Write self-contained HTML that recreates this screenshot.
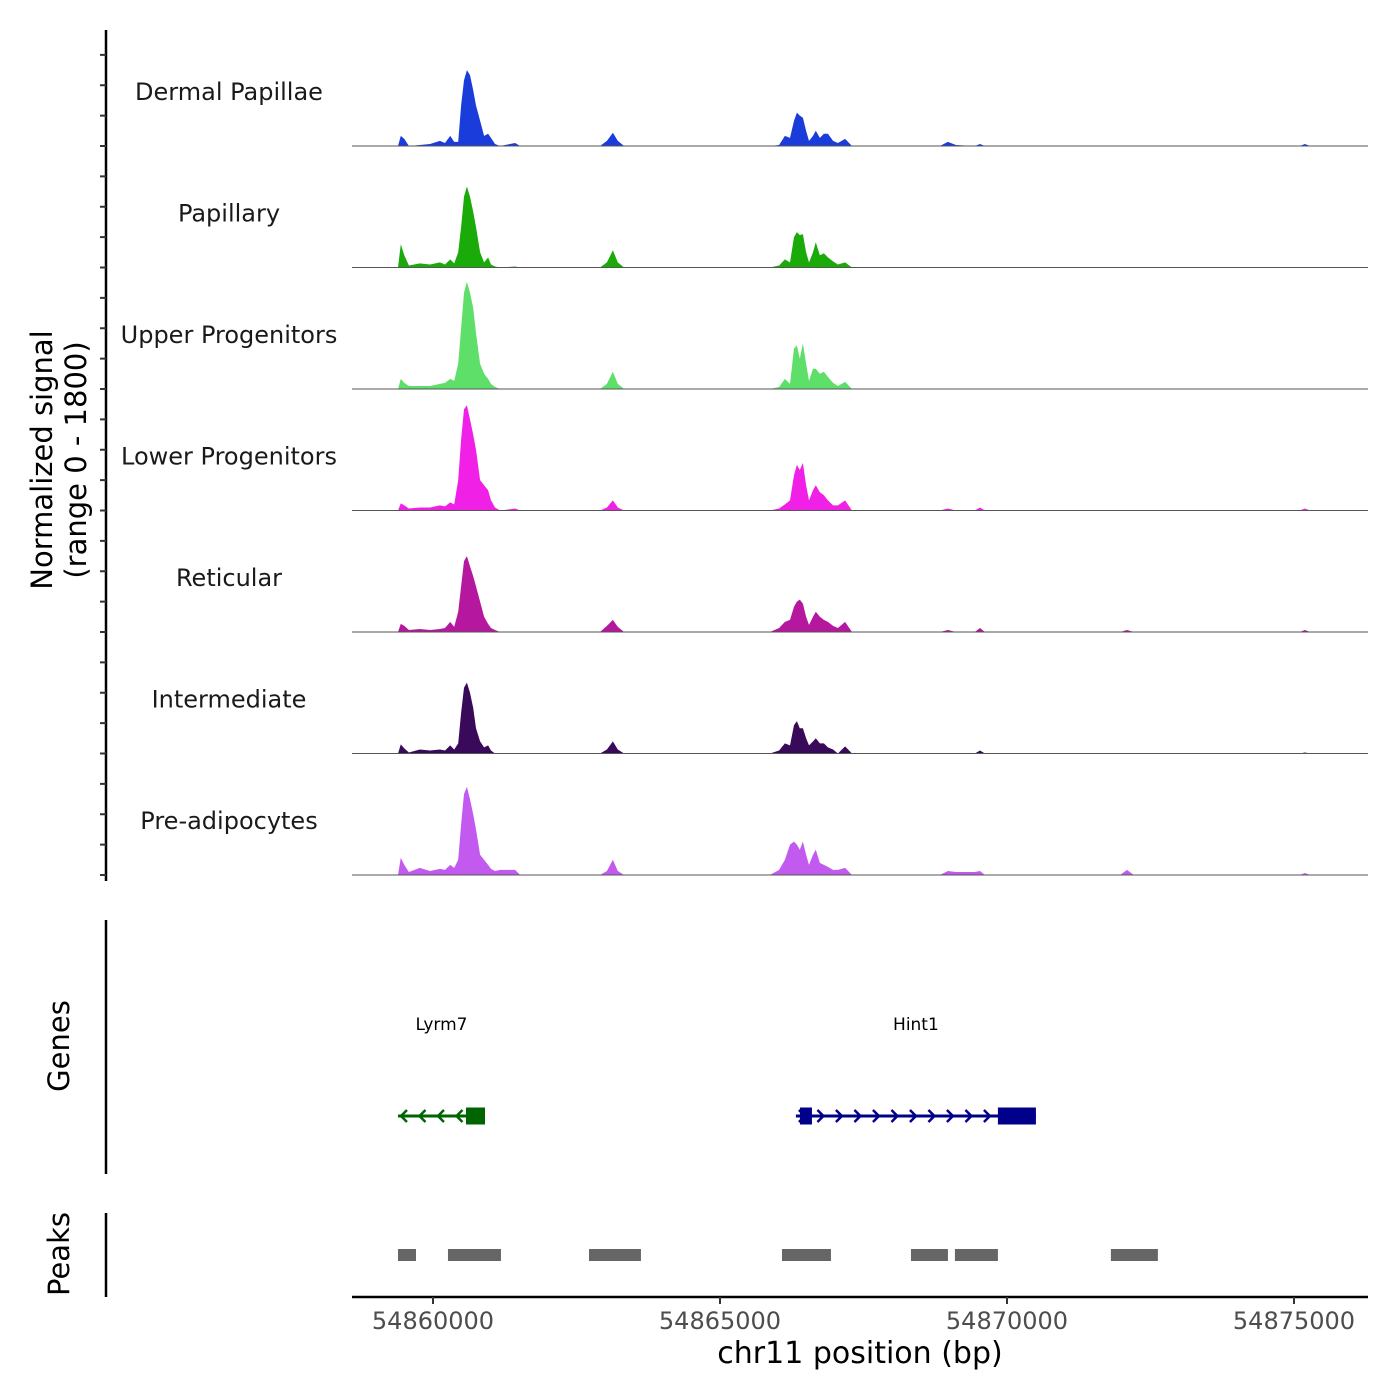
<!DOCTYPE html>
<html><head><meta charset="utf-8"><style>
html,body{margin:0;padding:0;background:#fff;}
svg{display:block;font-family:"DejaVu Sans","Liberation Sans",sans-serif;}
</style></head><body>
<svg id="chart" width="1400" height="1400" viewBox="0 0 1400 1400"></svg>
<script>
const positions=[54859390,54859440,54859500,54859580,54859770,54859950,54860120,54860210,54860300,54860370,54860440,54860490,54860540,54860590,54860645,54860700,54860750,54860820,54860890,54860960,54861010,54861080,54861170,54861430,54861520,54862910,54863030,54863135,54863220,54863330,54865870,54866030,54866130,54866220,54866290,54866340,54866390,54866445,54866500,54866550,54866620,54866670,54866740,54866810,54866880,54866970,54867055,54867180,54867300,54867440,54868830,54868970,54869110,54869440,54869530,54869615,54871970,54872090,54872210,54875100,54875190,54875280];
const trackNames=["Dermal Papillae","Papillary","Upper Progenitors","Lower Progenitors","Reticular","Intermediate","Pre-adipocytes"];
const trackColors=["#1a3cdb","#1aab0a","#5ddf6a","#f020e6","#b5189e","#3a0a5a","#c35af0"];
const dermalValues=[0,150,105,0,15,30,75,45,150,60,60,600,975,1125,1050,825,600,375,150,180,120,30,0,45,0,0,75,195,75,0,0,15,150,120,375,495,450,420,225,75,150,225,120,180,180,75,45,105,0,0,0,60,15,0,30,0,0,0,0,0,30,0];
const papillaryValues=[0,345,180,30,60,45,75,45,120,60,225,600,1050,1200,1050,825,600,225,75,150,45,15,0,15,0,0,75,255,75,0,0,30,120,75,450,525,480,495,225,75,225,375,180,210,150,90,45,75,0,0,0,0,0,0,0,0,0,0,0,0,0,0];
const upperValues=[0,150,90,45,45,45,75,90,150,120,375,900,1425,1590,1425,1200,825,375,225,150,75,30,0,0,0,0,75,255,75,0,0,30,150,75,600,645,450,675,375,120,300,300,225,255,180,90,45,105,0,0,0,0,0,0,0,0,0,0,0,0,0,0];
const lowerValues=[0,105,75,30,45,45,75,60,120,90,450,1050,1500,1560,1350,1125,900,450,375,300,150,45,0,30,0,0,45,150,45,0,0,30,90,150,525,675,600,705,375,150,300,375,270,225,150,75,75,150,0,0,0,30,0,0,45,0,0,0,0,0,30,0];
const reticularValues=[0,120,90,30,45,30,45,60,150,75,300,675,1050,1125,975,825,675,450,225,120,60,30,0,0,0,0,90,180,75,0,0,60,150,180,375,450,480,420,225,105,225,300,225,180,150,90,60,150,0,0,0,30,0,0,60,0,0,30,0,0,30,0];
const intermediateValues=[0,135,75,15,60,45,60,45,120,60,150,600,975,1050,900,675,375,180,90,120,45,0,0,0,0,0,60,180,60,0,0,45,150,120,420,480,375,375,225,120,180,225,150,150,90,60,0,105,0,0,0,0,0,0,45,0,0,0,0,0,15,0];
const preadipoValues=[0,255,150,45,105,60,90,75,150,105,225,750,1200,1305,1125,900,675,300,225,150,90,60,75,75,0,0,60,225,60,0,0,75,225,450,495,450,375,495,300,150,300,375,180,150,120,75,75,105,0,0,0,60,45,45,60,0,0,75,0,0,30,0];
const xTicks=[54860000,54865000,54870000,54875000];
const peakStarts=[54859390,54860261,54862718,54866080,54868327,54869093,54871810];
const peakEnds=[54859704,54861184,54863623,54866933,54868971,54869842,54872629];
const geneNames=["Lyrm7","Hint1"];
const geneStarts=[54859390,54866323];
const geneEnds=[54860906,54870504];
const geneStrands=[-1,1];
const geneColors=["#006400","#00008b"];
const exonGene=[0,1,1];
const exonStarts=[54860575,54866393,54869842];
const exonEnds=[54860906,54866602,54870504];

const series=[dermalValues,papillaryValues,upperValues,lowerValues,reticularValues,intermediateValues,preadipoValues];
const X0=352,X1=1368,BP0=54858589,PXPB=0.0574;
function xs(bp){return X0+(bp-BP0)*PXPB;}
const TH=121.5, YMAX=1800, TOP=24.5;
function base(i){return TOP+TH*(i+1);}
function ys(i,v){return base(i)-v/YMAX*TH;}
const svg=document.getElementById('chart');
const NS='http://www.w3.org/2000/svg';
function mk(tag,attrs,parent){const e=document.createElementNS(NS,tag);for(const k in attrs)e.setAttribute(k,attrs[k]);(parent||svg).appendChild(e);return e;}

series.forEach((vals,i)=>{
  const g=mk('g',{});
  
  
  let d='M'+xs(positions[0])+','+base(i);
  positions.forEach((p,j)=>{d+=' L'+xs(p).toFixed(1)+','+ys(i,vals[j]).toFixed(1);});
  d+=' L'+xs(positions[positions.length-1])+','+base(i)+' Z';
  const a=mk('path',{d:d,fill:trackColors[i]},g);
  
  
  const l=mk('line',{x1:X0,x2:X1,y1:base(i),y2:base(i),stroke:'#555',"stroke-width":1},g);
  
  
  const t=mk('text',{x:229,y:base(i)-46,"text-anchor":"middle","font-size":24,fill:'#1a1a1a'},g);
  t.textContent=trackNames[i];
  
  
});

const ax=mk('line',{x1:106,x2:106,y1:30,y2:881,stroke:'#000',"stroke-width":2.5});


for(let y=base(6);y>=30;y-=TH/4){
  const tk=mk('line',{x1:100,x2:106,y1:y,y2:y,stroke:'#333',"stroke-width":2});
  
  
}
const yt=mk('text',{transform:'translate(52,460) rotate(-90)',"text-anchor":"middle","font-size":29,fill:'#000'});


yt.innerHTML='<tspan x="0" dy="0">Normalized signal</tspan><tspan x="0" dy="34">(range 0 - 1800)</tspan>';

const gax=mk('line',{x1:106,x2:106,y1:920,y2:1174,stroke:'#000',"stroke-width":2.5});


const gl=mk('text',{transform:'translate(69,1046) rotate(-90)',"text-anchor":"middle","font-size":29});
gl.textContent='Genes';


const GY=1116;
geneNames.forEach((n,i)=>{
  const g=mk('g',{});
  
  
  const c=geneColors[i];
  const x1=xs(geneStarts[i]),x2=xs(geneEnds[i]);
  mk('line',{x1:x1,x2:x2,y1:GY,y2:GY,stroke:c,"stroke-width":3},g);
  for(let x=x1+6;x<x2-4;x+=18.5){
    const s=geneStrands[i];
    const d=s>0?`M${x-3},${GY-6} L${x+3},${GY} L${x-3},${GY+6}`:`M${x+3},${GY-6} L${x-3},${GY} L${x+3},${GY+6}`;
    mk('path',{d:d,stroke:c,"stroke-width":2.5,fill:'none'},g);
  }
  const t=mk('text',{x:(x1+x2)/2,y:1030,"text-anchor":"middle","font-size":17},g);
  t.textContent=n;
  
  
});
exonStarts.forEach((s,k)=>{
  const r=mk('rect',{x:xs(s),y:GY-8.5,width:xs(exonEnds[k])-xs(s),height:17,fill:geneColors[exonGene[k]]});
  
  
});

const pax=mk('line',{x1:106,x2:106,y1:1213,y2:1297,stroke:'#000',"stroke-width":2.5});


const pl=mk('text',{transform:'translate(69,1254) rotate(-90)',"text-anchor":"middle","font-size":29});
pl.textContent='Peaks';


peakStarts.forEach((s,k)=>{
  const r=mk('rect',{x:xs(s),y:1249,width:xs(peakEnds[k])-xs(s),height:12,fill:'#666'});
  
  
});

const xa=mk('line',{x1:X0,x2:X1,y1:1297,y2:1297,stroke:'#000',"stroke-width":2.5});


xTicks.forEach(t=>{
  const x=xs(t);
  const tk=mk('line',{x1:x,x2:x,y1:1297,y2:1304,stroke:'#333',"stroke-width":2});
  
  
  const lb=mk('text',{x:x,y:1329,"text-anchor":"middle","font-size":24,fill:'#4d4d4d'});
  lb.textContent=String(t);
  
  
});
const xt=mk('text',{x:860,y:1363,"text-anchor":"middle","font-size":30});
xt.textContent='chr11 position (bp)';


</script>
</body></html>
